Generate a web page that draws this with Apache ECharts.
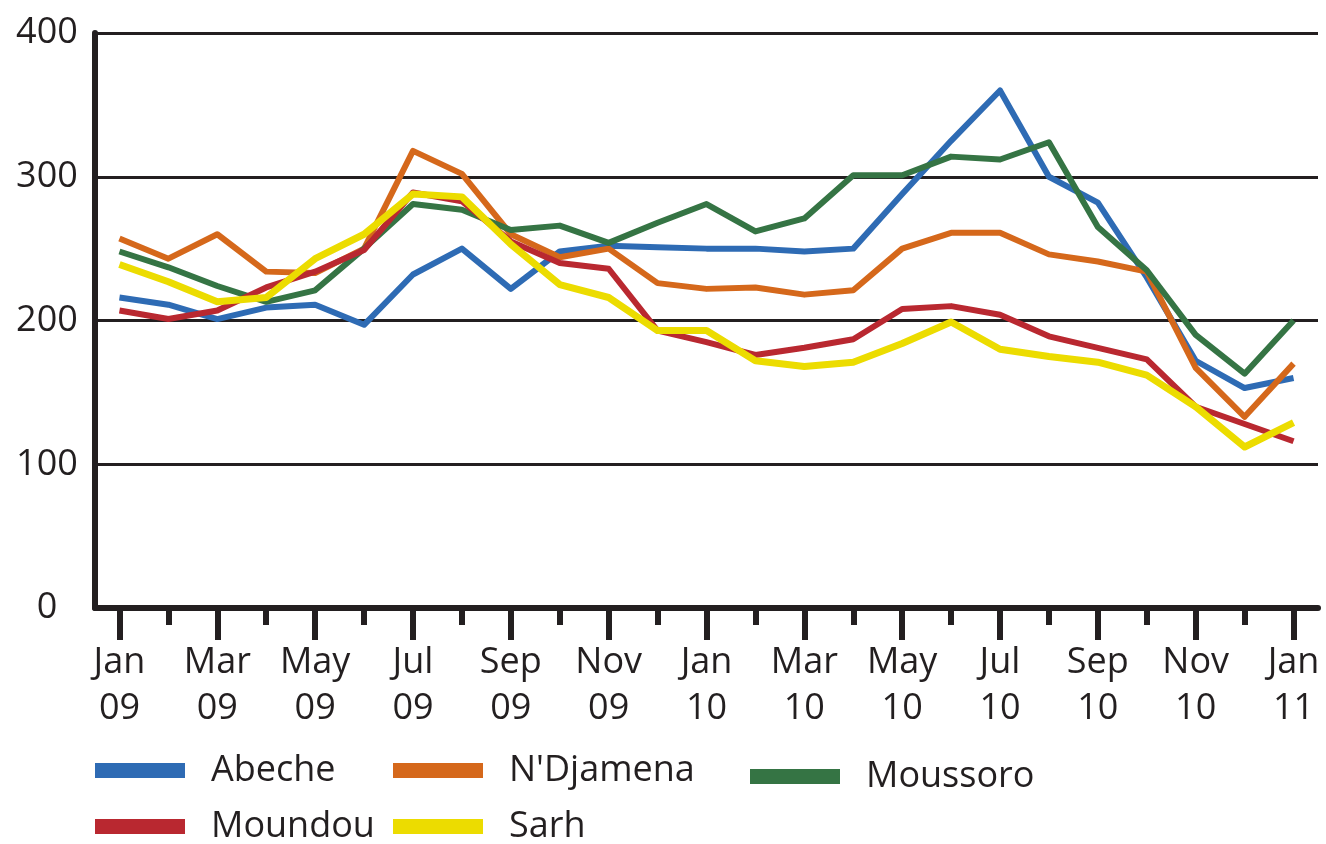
<!DOCTYPE html>
<html>
<head>
<meta charset="utf-8">
<script src="https://cdn.jsdelivr.net/npm/echarts@6/dist/echarts.min.js"></script>
<style>
html,body{margin:0;padding:0;background:#fff;}
#chart{width:1326px;height:844px;}
</style>
</head>
<body>
<div id="chart"></div>
<script>
const categories = ["Jan 09","Feb 09","Mar 09","Apr 09","May 09","Jun 09","Jul 09","Aug 09","Sep 09","Oct 09","Nov 09","Dec 09",
  "Jan 10","Feb 10","Mar 10","Apr 10","May 10","Jun 10","Jul 10","Aug 10","Sep 10","Oct 10","Nov 10","Dec 10","Jan 11"];
const abeche    = [216,211,201,209,211,197,232,250,222,248,252,251,250,250,248,250,288,325,360,300,282,230,172,153,160];
const ndjamena  = [257,243,260,234,233,250,318,302,260,244,250,226,222,223,218,221,250,261,261,246,241,234,167,133,170];
const moussoro  = [248,237,224,213,221,250,281,277,263,266,254,268,281,262,271,301,301,314,312,324,265,235,190,163,200];
const moundou   = [207,201,207,223,234,249,289,283,255,240,236,193,185,176,181,187,208,210,204,189,181,173,140,128,116];
const sarh      = [239,227,213,216,243,260,288,286,253,225,216,193,193,172,168,171,184,199,180,175,171,162,140,112,129];
const yTicks = [0,100,200,300,400];

const ink = '#231f20';
const font = '"Open Sans", sans-serif';
const colors = {Abeche:'#2e6bb4', "N'Djamena":'#d5681b', Moussoro:'#357444', Moundou:'#b92830', Sarh:'#ecdc00'};

const chart = echarts.init(document.getElementById('chart'), null, {renderer:'canvas'});

function mkLegend(name, left, top){
  return {
    data:[name], left:left, top:top, orient:'horizontal', selectedMode:false,
    icon:'rect', itemWidth:90, itemHeight:15, padding:0,
    textStyle:{fontFamily:font, fontSize:36, color:ink, lineHeight:40, padding:[5,0,0,21]}
  };
}
function mkSeries(name, data){
  return {
    name:name, type:'line', data:data, xAxisIndex:0, yAxisIndex:0,
    symbol:'none', smooth:false,
    lineStyle:{width: name==='Sarh'?7:6, color:colors[name], join:'round'},
    itemStyle:{color:colors[name]}
  };
}

chart.setOption({
  animation:false,
  backgroundColor:'#ffffff',
  grid:{left:95, right:8, top:33, bottom:236, containLabel:false},
  legend:[
    mkLegend('Abeche', 95, 748),
    mkLegend("N'Djamena", 393, 748),
    mkLegend('Moussoro', 750, 754),
    mkLegend('Moundou', 95, 804),
    mkLegend('Sarh', 393, 804)
  ],
  xAxis:[
    {
      type:'category', data:categories, boundaryGap:true, position:'bottom',
      axisLine:{show:true, lineStyle:{color:ink, width:6}},
      axisTick:{show:true, alignWithLabel:true, interval:0, length:17, lineStyle:{color:ink, width:6}},
      axisLabel:{show:true, interval:1, margin:32, color:ink, fontFamily:font, fontSize:36, lineHeight:46,
        formatter:function(v){return v.replace(' ','\n');}},
      splitLine:{show:false}
    },
    {
      type:'category', data:categories, boundaryGap:true, position:'bottom', gridIndex:0,
      axisLine:{show:false},
      axisTick:{show:true, alignWithLabel:true, interval:1, length:32, lineStyle:{color:ink, width:6}},
      axisLabel:{show:false},
      splitLine:{show:false}
    }
  ],
  yAxis:{
    type:'value', min:yTicks[0], max:yTicks[yTicks.length-1], interval:100,
    axisLine:{show:true, lineStyle:{color:ink, width:6}},
    axisTick:{show:false},
    axisLabel:{show:true, margin:48, align:'center', color:ink, fontFamily:font, fontSize:36},
    splitLine:{show:true, lineStyle:{color:ink, width:3}}
  },
  series:[
    mkSeries('Abeche', abeche),
    mkSeries("N'Djamena", ndjamena),
    mkSeries('Moussoro', moussoro),
    mkSeries('Moundou', moundou),
    mkSeries('Sarh', sarh)
  ]
});
</script>
</body>
</html>
